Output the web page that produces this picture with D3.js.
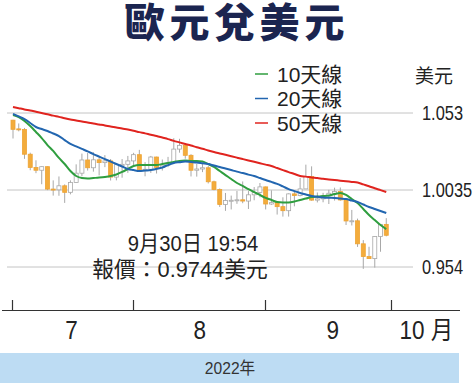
<!DOCTYPE html>
<html>
<head>
<meta charset="utf-8">
<script src="https://cdnjs.cloudflare.com/ajax/libs/d3/7.8.5/d3.min.js"></script>
<style>
body { margin:0; background:#fff; }
svg { display:block; }
.num { font-family:"Liberation Sans","Noto Sans CJK TC",sans-serif; }
</style>
</head>
<body>
<script>

// daily candles, 1 Jul - 30 Sep 2022 (trading days)
var openV = [1.0484,1.0428,1.0424,1.0265,1.0180,1.0162,1.0185,1.0041,1.0036,1.0062,1.0020,
  1.0083,1.0143,1.0228,1.0178,1.0229,1.0211,1.0222,1.0118,1.0190,1.0200,
  1.0222,1.0262,1.0165,1.0168,1.0247,1.0180,1.0195,1.0211,1.0298,1.0322,1.0258,1.0162,1.0170,1.0178,1.0088,
  1.0038,0.9942,0.9967,0.9969,0.9972,0.9964,1.0004,1.0019,
  1.0055,0.9945,0.9954,0.9928,0.9902,1.0010,0.9999,1.0042,1.0122,0.9970,0.9978,0.9998,
  1.0014,1.0025,0.9971,0.9836,0.9837,0.9689,0.9607,0.9594,0.9736,0.9814]
var highV = [1.0486,1.0463,1.0434,1.0275,1.0226,1.0187,1.0186,1.0097,1.0122,1.0071,1.0097,
  1.0200,1.0269,1.0273,1.0278,1.0255,1.0259,1.0234,1.0200,1.0234,1.0254,
  1.0274,1.0293,1.0214,1.0254,1.0249,1.0231,1.0248,1.0368,1.0364,1.0331,1.0265,1.0203,1.0202,1.0190,1.0095,
  1.0045,1.0016,0.9999,1.0029,1.0090,1.0028,1.0054,1.0080,
  1.0057,1.0033,0.9955,0.9988,1.0013,1.0030,1.0113,1.0198,1.0187,1.0019,1.0017,1.0036,
  1.0050,1.0051,0.9976,0.9907,0.9851,0.9713,0.9670,0.9739,0.9816,0.9854]
var lowV = [1.0366,1.0412,1.0235,1.0162,1.0143,1.0072,1.0034,0.9999,0.9998,0.9952,1.0007,
  1.0081,1.0124,1.0160,1.0153,1.0129,1.0182,1.0096,1.0097,1.0114,1.0145,
  1.0188,1.0160,1.0123,1.0145,1.0141,1.0160,1.0182,1.0203,1.0275,1.0236,1.0122,1.0121,1.0150,1.0077,1.0033,
  0.9926,0.9901,0.9910,0.9946,0.9950,0.9913,0.9969,0.9988,
  0.9910,0.9940,0.9877,0.9864,0.9864,0.9930,0.9994,1.0043,0.9966,0.9955,0.9956,0.9945,
  0.9967,0.9966,0.9810,0.9807,0.9669,0.9528,0.9593,0.9536,0.9638,0.9737]
var closeV = [1.0425,1.0424,1.0265,1.0180,1.0162,1.0185,1.0041,1.0036,1.0062,1.0020,1.0083,
  1.0143,1.0228,1.0178,1.0229,1.0211,1.0222,1.0118,1.0198,1.0200,1.0222,
  1.0262,1.0165,1.0168,1.0247,1.0180,1.0195,1.0211,1.0298,1.0322,1.0258,1.0162,1.0170,1.0178,1.0088,1.0038,
  0.9942,0.9967,0.9969,0.9972,0.9964,1.0004,1.0019,1.0055,
  0.9945,0.9954,0.9928,0.9902,1.0010,0.9999,1.0042,1.0122,0.9970,0.9978,0.9998,1.0014,
  1.0025,0.9971,0.9836,0.9837,0.9689,0.9607,0.9594,0.9736,0.9814,0.9744]

// moving averages
var ma10 = [1.0517,1.0504,1.0479,1.0446,1.0408,1.0369,1.0324,1.0286,1.0241,1.0202,1.0157,
  1.0125,1.0112,1.0109,1.0112,1.0115,1.0119,1.0125,1.0135,1.0151,1.0170,
  1.0189,1.0196,1.0196,1.0196,1.0196,1.0202,1.0209,1.0215,1.0222,1.0225,1.0222,1.0222,1.0218,1.0202,1.0183,
  1.0157,1.0131,1.0106,1.0080,1.0061,1.0041,1.0022,1.0003,
  0.9984,0.9971,0.9958,0.9955,0.9955,0.9961,0.9971,0.9980,0.9990,0.9993,0.9996,1.0000,
  1.0009,1.0016,1.0003,0.9977,0.9951,0.9913,0.9874,0.9842,0.9810,0.9784]
var ma20 = [1.0524,1.0508,1.0491,1.0466,1.0440,1.0427,1.0414,1.0398,1.0382,1.0356,1.0331,
  1.0315,1.0299,1.0283,1.0266,1.0250,1.0234,1.0218,1.0202,1.0186,1.0170,
  1.0163,1.0157,1.0160,1.0163,1.0171,1.0180,1.0195,1.0209,1.0214,1.0218,1.0215,1.0212,1.0207,1.0202,1.0192,
  1.0183,1.0173,1.0163,1.0153,1.0144,1.0134,1.0125,1.0112,
  1.0099,1.0087,1.0074,1.0058,1.0041,1.0028,1.0016,1.0006,0.9996,0.9991,0.9987,0.9985,
  0.9984,0.9980,0.9977,0.9967,0.9958,0.9942,0.9926,0.9913,0.9900,0.9887]
var ma50 = [1.0569,1.0561,1.0553,1.0546,1.0538,1.0530,1.0522,1.0513,1.0505,1.0496,1.0488,
  1.0482,1.0475,1.0469,1.0462,1.0456,1.0450,1.0443,1.0437,1.0430,1.0424,
  1.0416,1.0407,1.0399,1.0390,1.0382,1.0372,1.0362,1.0351,1.0341,1.0331,1.0321,1.0310,1.0300,1.0289,1.0279,
  1.0270,1.0261,1.0252,1.0243,1.0234,1.0225,1.0216,1.0207,
  1.0198,1.0189,1.0176,1.0163,1.0150,1.0138,1.0125,1.0121,1.0116,1.0112,1.0107,1.0103,
  1.0099,1.0095,1.0091,1.0087,1.0083,1.0071,1.0059,1.0046,1.0034,1.0022]

var yTicks = [1.053, 1.0035, 0.954]
var yTickLabels = ["1.053", "1.0035", "0.954"]
var monthStart = [0, 21, 44, 66]
var monthLabels = ["7", "8", "9", "10 月"]
var monthLabelPos = [10.2, 32.5, 55.7, 72]
var legendNames = ["10天線", "20天線", "50天線"]
var legendColors = ["#2f9e3f", "#2266b0", "#e0241f"]

var W = 474, H = 386

var svg = d3.select("body").append("svg")
.attr("width", W)
.attr("height", H)

var x = d3.scaleLinear().domain([0, 66]).range([13, 392])
var y = d3.scaleLinear().domain([0.954, 1.053]).range([267, 113])

// condensed text helper (graphic uses a narrow face)
function narrowText(px, py, str, size, squeeze, anchor)
{
  return svg.append("text")
  .attr("class", "num")
  .attr("transform", "translate(" + px + "," + py + ") scale(" + squeeze + ",1)")
  .attr("text-anchor", anchor || "start")
  .attr("dominant-baseline", "central")
  .attr("font-size", size)
  .attr("fill", "#222")
  .text(str)
}

// title
svg.append("text")
.attr("x", 237)
.attr("y", 37)
.attr("text-anchor", "middle")
.attr("font-family", "Noto Sans CJK TC, sans-serif")
.attr("font-weight", 900)
.attr("font-size", 40)
.attr("letter-spacing", 5)
.attr("fill", "#1b2550")
.text("歐元兌美元")

// grid lines + labels
svg.selectAll(".grid")
.data(yTicks)
.enter()
.append("line")
.attr("x1", 7)
.attr("x2", 413)
.attr("y1", function(d){ return y(d) })
.attr("y2", function(d){ return y(d) })
.attr("stroke", "#c4c4c4")
.attr("stroke-width", 1)

yTicks.forEach(function(d, i){
  narrowText(422, y(d), yTickLabels[i], 20, 0.82)
})

svg.append("text")
.attr("x", 415)
.attr("y", 74)
.attr("dominant-baseline", "central")
.attr("font-family", "Noto Sans CJK TC, sans-serif")
.attr("font-size", 19)
.attr("fill", "#222")
.text("美元")

// candles
var idx = d3.range(openV.length)

svg.selectAll(".wick")
.data(idx)
.enter()
.append("line")
.attr("x1", function(i){ return x(i) })
.attr("x2", function(i){ return x(i) })
.attr("y1", function(i){ return y(highV[i]) })
.attr("y2", function(i){ return y(lowV[i]) })
.attr("stroke", "#a8a8a8")
.attr("stroke-width", 1)

svg.selectAll(".body")
.data(idx)
.enter()
.append("rect")
.attr("x", function(i){ return x(i) - 2 })
.attr("width", 4)
.attr("y", function(i){ return y(Math.max(openV[i], closeV[i])) })
.attr("height", function(i){ return Math.max(1, Math.abs(y(openV[i]) - y(closeV[i]))) })
.attr("fill", function(i){ return closeV[i] < openV[i] ? "#f3ac3c" : "#fff" })
.attr("stroke", function(i){ return closeV[i] < openV[i] ? "#eea333" : "#a8a8a8" })
.attr("stroke-width", 0.8)

// moving averages
var line = d3.line()
.x(function(d,i){ return x(i) })
.y(function(d){ return y(d) })
.curve(d3.curveMonotoneX)

var maSets = [ma10, ma20, ma50]
maSets.forEach(function(s, k){
  svg.append("path")
  .datum(s)
  .attr("d", line)
  .attr("fill", "none")
  .attr("stroke", legendColors[k])
  .attr("stroke-width", 2)
})

// legend
legendNames.forEach(function(n, k){
  var ly = 74 + k*24.5
  svg.append("line")
  .attr("x1", 255).attr("x2", 268)
  .attr("y1", ly).attr("y2", ly)
  .attr("stroke", legendColors[k])
  .attr("stroke-width", 1.5)
  svg.append("text")
  .attr("class", "num")
  .attr("x", 277)
  .attr("y", ly)
  .attr("dominant-baseline", "central")
  .attr("font-size", 21)
  .attr("fill", "#222")
  .text(n)
})

// annotation
narrowText(193, 243, "9月30日 19:54", 22, 0.92, "middle")
narrowText(180, 269, "報價：0.9744美元", 22, 0.99, "middle")

// x axis
svg.append("line")
.attr("x1", 2).attr("x2", 460)
.attr("y1", 310.5).attr("y2", 310.5)
.attr("stroke", "#333")
.attr("stroke-width", 1.2)

svg.selectAll(".xt")
.data(monthStart)
.enter()
.append("line")
.attr("x1", function(d){ return Math.round(x(d)) - 0.5 })
.attr("x2", function(d){ return Math.round(x(d)) - 0.5 })
.attr("y1", 300)
.attr("y2", 310)
.attr("stroke", "#333")
.attr("stroke-width", 1.2)

monthLabels.forEach(function(d, i){
  narrowText(x(monthLabelPos[i]), 330, d, 25, 0.9, "middle")
})

// year band
svg.append("rect")
.attr("x", 0).attr("y", 353)
.attr("width", 459).attr("height", 30)
.attr("fill", "#bddcf3")

narrowText(230, 368, "2022年", 17, 0.92, "middle").attr("fill", "#333")

</script>
</body>
</html>
